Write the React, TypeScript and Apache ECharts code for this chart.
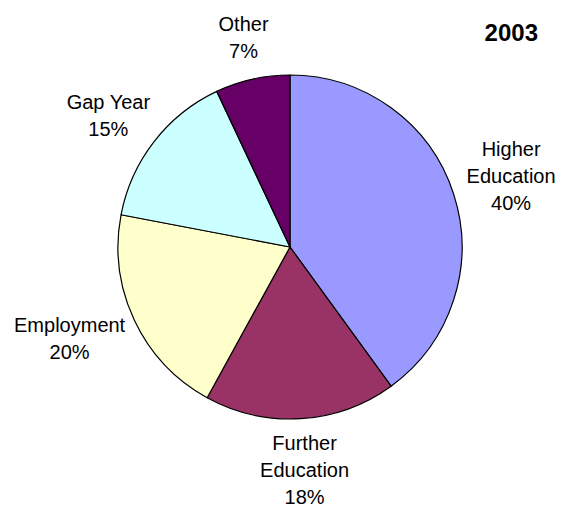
import React, { useEffect, useRef } from "react";
import * as echarts from "echarts";

const categories = ["Higher Education", "Further Education", "Employment", "Gap Year", "Other"];
const labelNames = ["Higher\nEducation", "Further\nEducation", "Employment", "Gap Year", "Other"];
const values = [40, 18, 20, 15, 7];
const colors = ["#9999FF", "#993366", "#FFFFCC", "#CCFFFF", "#660066"];
const titleText = "2003";

const W = 569;
const H = 512;
const CX = 290;
const CY = 247;
const R = 172;
const GAP = 16;

export default function App() {
  const ref = useRef<HTMLDivElement>(null);
  useEffect(() => {
    if (!ref.current) return;
    const chart = echarts.init(ref.current, null, { renderer: "svg" });
    const total = values.reduce((a, b) => a + b, 0);
    chart.setOption({
      animation: false,
      backgroundColor: "#ffffff",
      title: {
        text: titleText,
        right: 26,
        top: 15,
        textStyle: { fontFamily: "Liberation Sans, Arial", fontWeight: "bold", fontSize: 24, color: "#000" },
      },
      series: [
        {
          type: "pie",
          center: [CX, CY],
          radius: [0, R],
          startAngle: 90,
          clockwise: true,
          avoidLabelOverlap: false,
          itemStyle: { borderColor: "#000", borderWidth: 1.2 },
          label: {
            show: true,
            position: "outside",
            fontFamily: "Liberation Sans, Arial",
            fontSize: 20,
            lineHeight: 27,
            color: "#000",
            formatter: (p: any) => `${labelNames[p.dataIndex]}\n${p.value}%`,
          },
          labelLine: { show: false },
          emphasis: { disabled: true },
          labelLayout: (params: any) => {
            const i = params.dataIndex;
            let start = 0;
            for (let k = 0; k < i; k++) start += values[k];
            const mid = ((start + values[i] / 2) / total) * Math.PI * 2;
            const dx = Math.sin(mid);
            const dy = -Math.cos(mid);
            const ax = CX + dx * (R + GAP);
            const ay = CY + dy * (R + GAP);
            const w = params.labelRect.width;
            const h = params.labelRect.height;
            let x = ax + (dx * w) / 2;
            let y = ay + (dy * h) / 2;
            x = Math.max(w / 2 + 2, Math.min(W - w / 2 - 2, x));
            y = Math.max(h / 2 + 2, Math.min(H - h / 2 - 2, y));
            return { x, y, align: "center", verticalAlign: "middle" };
          },
          data: categories.map((c, i) => ({
            name: c,
            value: values[i],
            itemStyle: { color: colors[i] },
          })),
        },
      ],
    });
    return () => chart.dispose();
  }, []);
  return (
    <div
      ref={ref}
      style={{ position: "fixed", left: 0, top: 0, width: W, height: H }}
    />
  );
}
